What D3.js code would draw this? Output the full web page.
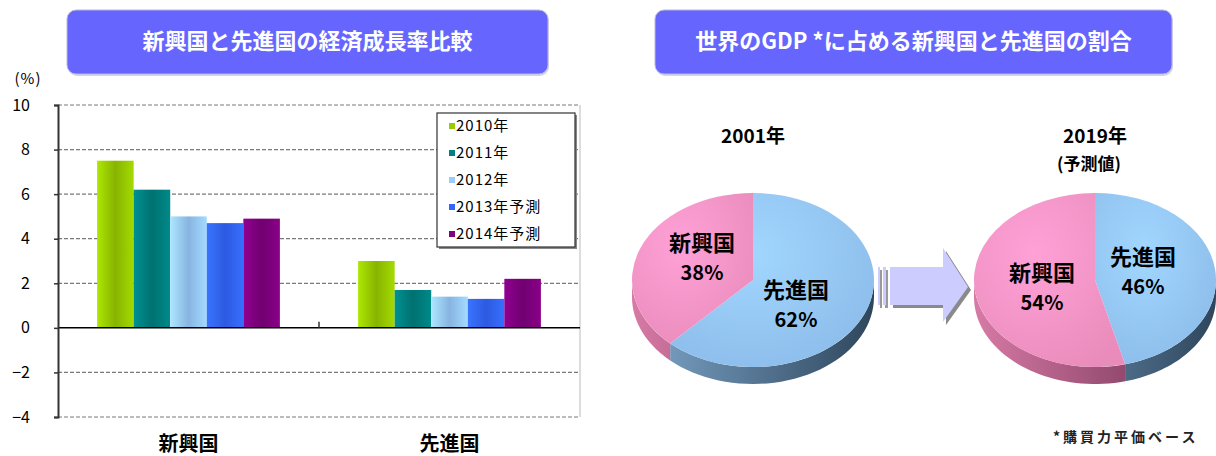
<html>
<head>
  <meta charset="utf-8">
  <title>新興国と先進国</title>
  <script type="text/javascript" src="https://cdn.jsdelivr.net/npm/d3@7"></script>
  <style type="text/css">
    body { margin: 0; background: #fff; }
    text { font-family: "Noto Sans CJK JP", sans-serif; }
  </style>
</head>
<body>
<script>
// Data
const categories = ["新興国", "先進国"];
const years = ["2010年", "2011年", "2012年", "2013年予測", "2014年予測"];
const emerging = [7.5, 6.2, 5.0, 4.7, 4.9];
const advanced = [3.0, 1.7, 1.4, 1.3, 2.2];
const yTicks = [-4, -2, 0, 2, 4, 6, 8, 10];
const barColors = ["#99cc00", "#008080", "#99ccff", "#3366ff", "#800080"];

const pieNames = ["先進国", "新興国"];
const share2001 = [62, 38];
const share2019 = [46, 54];
const pieColors = ["#99ccff", "#ff99cc"];

const w = 1216, h = 456;

const svg = d3.select("body").append("svg")
  .attr("width", w)
  .attr("height", h);

const defs = svg.append("defs");

// title boxes
function titleBox(x, y, bw, bh, label) {
  svg.append("rect")
    .attr("x", x + 1).attr("y", y + 2).attr("width", bw).attr("height", bh)
    .attr("rx", 9).attr("fill", "#d8d8e0");
  svg.append("rect")
    .attr("x", x).attr("y", y).attr("width", bw).attr("height", bh)
    .attr("rx", 9).attr("fill", "#6666ff").attr("stroke", "#b8b8e0").attr("stroke-width", 1);
  svg.append("text")
    .attr("x", x + bw / 2).attr("y", y + bh / 2 + 1)
    .attr("text-anchor", "middle").attr("dominant-baseline", "middle")
    .attr("fill", "#fff").attr("font-size", 22).attr("font-weight", "bold")
    .text(label);
}
titleBox(67, 10, 481, 64, "新興国と先進国の経済成長率比較");
titleBox(655, 10, 517, 64, "世界のGDP *に占める新興国と先進国の割合");

// ---------- bar chart ----------
const left = 58, right = 580;
const xScale = d3.scaleBand().domain(categories).range([left, right]);
const x1 = d3.scaleBand().domain(years).range([0, xScale.bandwidth()]).paddingOuter(1.07).paddingInner(0);
const yScale = d3.scaleLinear().domain([-4, 10]).range([417, 105]);

// gradients for bars
barColors.forEach(function(c, i) {
  const g = defs.append("linearGradient").attr("id", "bar" + i)
    .attr("x1", "0%").attr("x2", "100%").attr("y1", "0%").attr("y2", "0%");
  const base = d3.color(c);
  g.append("stop").attr("offset", "0%").attr("stop-color", d3.color(c).brighter(0.35));
  g.append("stop").attr("offset", "50%").attr("stop-color", base.darker(0.35));
  g.append("stop").attr("offset", "100%").attr("stop-color", d3.color(c).brighter(0.2));
});

// grid
svg.append("g").selectAll("line")
  .data(yTicks.filter(function(d) { return d !== 0; }))
  .enter().append("line")
  .attr("x1", left).attr("x2", right)
  .attr("y1", function(d) { return yScale(d); })
  .attr("y2", function(d) { return yScale(d); })
  .attr("stroke", "#7a7a7a").attr("stroke-width", 1.2)
  .attr("stroke-dasharray", "4,2");

// right border
svg.append("line")
  .attr("x1", right).attr("x2", right).attr("y1", yScale(10)).attr("y2", yScale(-4))
  .attr("stroke", "#bbb").attr("stroke-width", 1);

const series = [emerging, advanced];
categories.forEach(function(cat, ci) {
  svg.append("g")
    .attr("transform", "translate(" + xScale(cat) + ",0)")
    .selectAll("rect")
    .data(series[ci])
    .enter().append("rect")
    .attr("x", function(d, i) { return x1(years[i]); })
    .attr("width", x1.bandwidth())
    .attr("y", function(d) { return yScale(Math.max(0, d)); })
    .attr("height", function(d) { return Math.abs(yScale(d) - yScale(0)); })
    .attr("fill", function(d, i) { return "url(#bar" + i + ")"; });
});

// zero line
svg.append("line")
  .attr("x1", left).attr("x2", right).attr("y1", yScale(0)).attr("y2", yScale(0))
  .attr("stroke", "#000").attr("stroke-width", 1.5);

// category divider tick
svg.append("line")
  .attr("x1", xScale("先進国")).attr("x2", xScale("先進国"))
  .attr("y1", yScale(0) - 6).attr("y2", yScale(0))
  .attr("stroke", "#333").attr("stroke-width", 1.5);

// y axis
const yAxis = d3.axisLeft(yScale).tickValues(yTicks).tickSize(4).tickPadding(24);
const yg = svg.append("g")
  .attr("transform", "translate(" + left + ",0)")
  .call(yAxis);
yg.select(".domain").attr("stroke", "#333").attr("stroke-width", 2);
yg.selectAll(".tick line").attr("stroke", "#333").attr("stroke-width", 1.5);
yg.selectAll(".tick text").attr("font-size", 16).attr("fill", "#000")
  .attr("font-family", "'Liberation Sans', sans-serif");

svg.append("text")
  .attr("x", 28).attr("y", 84).attr("text-anchor", "middle")
  .attr("font-size", 15).attr("letter-spacing", 1).text("(%)");

// x labels
svg.append("g").selectAll("text")
  .data(categories).enter().append("text")
  .attr("x", function(d) { return xScale(d) + xScale.bandwidth() / 2; })
  .attr("y", 451)
  .attr("text-anchor", "middle").attr("font-size", 20).attr("font-weight", "bold")
  .text(function(d) { return d; });

// legend
const lg = svg.append("g");
lg.append("rect").attr("x", 439).attr("y", 115).attr("width", 138).attr("height", 134).attr("fill", "#888");
lg.append("rect").attr("x", 437).attr("y", 113).attr("width", 138).attr("height", 134)
  .attr("fill", "#fff").attr("stroke", "#333").attr("stroke-width", 1.2);
const legendY = d3.scalePoint().domain(years).range([126, 234]);
years.forEach(function(yr, i) {
  lg.append("rect").attr("x", 449).attr("y", legendY(yr) - 3).attr("width", 6).attr("height", 6)
    .attr("fill", barColors[i]);
  lg.append("text").attr("x", 456).attr("y", legendY(yr) + 5)
    .attr("font-size", 15).attr("letter-spacing", 1).text(yr);
});

// ---------- pies ----------
const rx = 121, ry = 87, depth = 17;
const pie = d3.pie().sort(null);

const sideStops = [["#7fa7cb", "#2e465d"], ["#d77aa6", "#6a2d4d"]];
pieColors.forEach(function(c, i) {
  const g = defs.append("radialGradient").attr("id", "face" + i)
    .attr("cx", "40%").attr("cy", "35%").attr("r", "75%");
  g.append("stop").attr("offset", "0%").attr("stop-color", d3.color(c).brighter(0.15));
  g.append("stop").attr("offset", "100%").attr("stop-color", d3.color(c).darker(0.25));
});

function pt(cx, cy, a, dy) {
  return [cx + rx * Math.sin(a), cy - ry * Math.cos(a) + (dy || 0)];
}

function drawPie(cx, cy, values, labelPos, yearLabel, subLabel) {
  const g = svg.append("g");
  const arcs = pie(values);
  const sideGrad = [];
  arcs.forEach(function(a, i) {
    const id = "sg" + cx + "_" + i;
    const lgd = defs.append("linearGradient").attr("id", id)
      .attr("gradientUnits", "userSpaceOnUse")
      .attr("x1", cx - rx).attr("x2", cx + rx).attr("y1", 0).attr("y2", 0);
    lgd.append("stop").attr("offset", "0%").attr("stop-color", sideStops[i][0]);
    lgd.append("stop").attr("offset", "100%").attr("stop-color", sideStops[i][1]);
    sideGrad.push(id);
  });
  // sides (front half only)
  arcs.forEach(function(a, i) {
    const a0 = Math.max(a.startAngle, Math.PI / 2);
    const a1 = Math.min(a.endAngle, 3 * Math.PI / 2);
    if (a1 <= a0) return;
    const n = 40;
    const pts = [];
    for (let k = 0; k <= n; k++) pts.push(pt(cx, cy, a0 + (a1 - a0) * k / n, 0));
    for (let k = n; k >= 0; k--) pts.push(pt(cx, cy, a0 + (a1 - a0) * k / n, depth));
    g.append("path")
      .attr("d", d3.line()(pts) + "Z")
      .attr("fill", "url(#" + sideGrad[i] + ")");
  });
  // top faces
  const arc = d3.arc().innerRadius(0).outerRadius(rx);
  g.append("g")
    .attr("transform", "translate(" + cx + "," + cy + ") scale(1," + (ry / rx) + ")")
    .selectAll("path")
    .data(arcs).enter().append("path")
    .attr("d", arc)
    .attr("fill", function(d, i) { return "url(#face" + i + ")"; });

  // labels
  arcs.forEach(function(a, i) {
    const p = labelPos[i];
    g.append("text").attr("x", p[0]).attr("y", p[1])
      .attr("text-anchor", "middle").attr("font-size", 22).attr("font-weight", "bold")
      .text(pieNames[i]);
    g.append("text").attr("x", p[0]).attr("y", p[1] + 29)
      .attr("text-anchor", "middle").attr("font-size", 20).attr("font-weight", "bold")
      .text(values[i] + "%");
  });
  svg.append("text").attr("x", cx).attr("y", 143)
    .attr("text-anchor", "middle").attr("font-size", 19).attr("font-weight", "bold")
    .text(yearLabel);
  if (subLabel) {
    svg.append("text").attr("x", cx - 6).attr("y", 170)
      .attr("text-anchor", "middle").attr("font-size", 17).attr("font-weight", "bold")
      .text(subLabel);
  }
}

drawPie(753, 280, share2001, [[796, 298], [702, 251]], "2001年");
drawPie(1095, 280, share2019, [[1143, 265], [1042, 281]], "2019年", "(予測値)");

// arrow
const arrowPts = [[890, 267], [943, 267], [943, 248], [968, 287], [943, 322], [943, 305], [890, 305]];
svg.append("path").attr("d", d3.line()(arrowPts.map(function(p) { return [p[0] + 3, p[1] + 3]; })) + "Z")
  .attr("fill", "#8a8a8a");
svg.append("path").attr("d", d3.line()(arrowPts) + "Z")
  .attr("fill", "#ccccff");
[[878, 2], [883, 3]].forEach(function(s) {
  svg.append("rect").attr("x", s[0] + 2).attr("y", 270).attr("width", s[1]).attr("height", 38).attr("fill", "#9a9a9a");
  svg.append("rect").attr("x", s[0]).attr("y", 267).attr("width", s[1]).attr("height", 38).attr("fill", "#ccccff");
});

// footnote
svg.append("text").attr("x", 1053).attr("y", 442)
  .attr("font-size", 14).attr("font-weight", "bold").attr("fill", "#222")
  .attr("letter-spacing", 3)
  .text("*購買力平価ベース");
</script>
</body>
</html>
